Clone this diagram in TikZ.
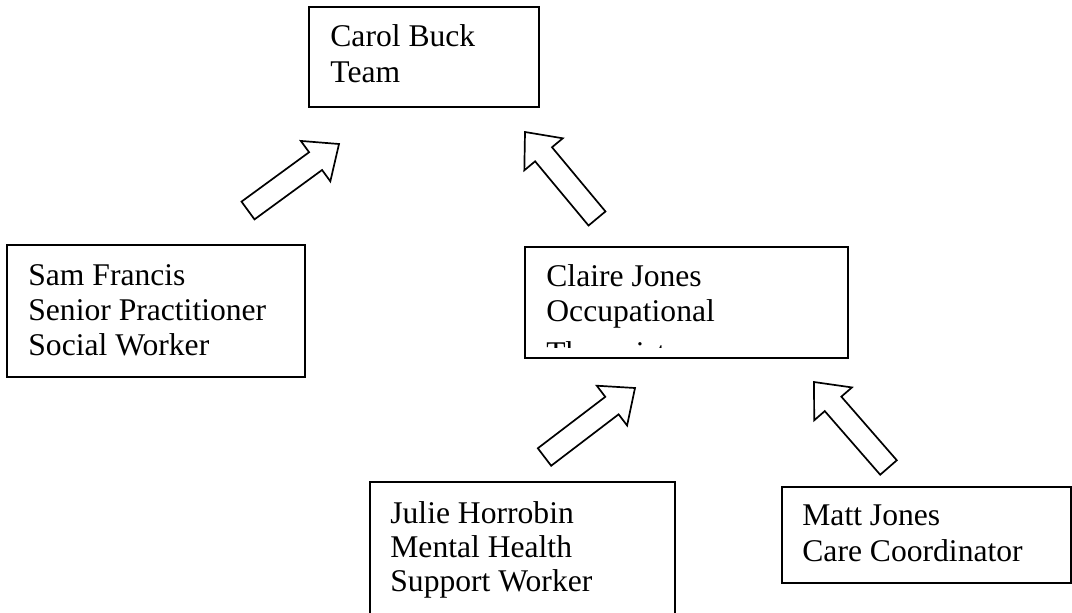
\documentclass[tikz,border=0pt]{standalone}
\usepackage{fontspec}
\setmainfont{Liberation Serif}
\usetikzlibrary{calc}
\tikzset{
  boxnode/.style={draw, line width=1pt, inner sep=0pt, fill=white},
  txt/.style={anchor=base west, inner sep=0pt, font=\fontsize{15.8}{17}\selectfont},
  arrowshape/.style={draw, line width=0.85pt, fill=white, line join=miter},
}
\newcommand\blockarrow[2]{%
  \coordinate (#1-h) at ($(#2)!14.5pt!(#1)$);
  \draw[arrowshape] ($(#1)!5.5pt!90:(#2)$) -- ($(#1-h)!5.5pt!90:(#2)$)
    -- ($(#1-h)!12.5pt!90:(#2)$) -- (#2) -- ($(#1-h)!12.5pt!-90:(#2)$)
    -- ($(#1-h)!5.5pt!-90:(#2)$) -- ($(#1)!5.5pt!-90:(#2)$) -- cycle;}
\begin{document}
\begin{tikzpicture}[x=0.5pt, y=-0.5pt]
\useasboundingbox (0,0) rectangle (1072,612);
\clip (0,0) rectangle (1072,612);
% boxes
\node[boxnode, minimum width=115pt, minimum height=50pt] (carol) at (424,57) {};
\node[boxnode, minimum width=149pt, minimum height=66pt] (sam) at (156,311) {};
\node[boxnode, minimum width=161.5pt, minimum height=55.5pt] (claire) at (686.5,302.5) {};
\node[boxnode, minimum width=152.5pt, minimum height=79pt] (julie) at (522.5,561) {};
\node[boxnode, minimum width=144.5pt, minimum height=48pt] (matt) at (926.5,535) {};
% texts
\node[txt] (carol1) at ($(carol.north west)+(22,40)$) {Carol Buck};
\node[txt] (carol2) at ($(carol.north west)+(22,76)$) {Team};
\node[txt] (sam1) at ($(sam.north west)+(22,41)$) {Sam Francis};
\node[txt] (sam2) at ($(sam.north west)+(22,76)$) {Senior Practitioner};
\node[txt] (sam3) at ($(sam.north west)+(22,111)$) {Social Worker};
\node[txt] (claire1) at ($(claire.north west)+(22,40)$) {Claire Jones};
\node[txt] (claire2) at ($(claire.north west)+(22,75)$) {Occupational};
\begin{scope}
\clip (claire.north west) rectangle ($(claire.south east)+(0,-12)$);
\node[txt] (claire3) at ($(claire.north west)+(22,117)$) {Therapist};
\end{scope}
\node[txt] (julie1) at ($(julie.north west)+(21,42)$) {Julie Horrobin};
\node[txt] (julie2) at ($(julie.north west)+(21,76)$) {Mental Health};
\node[txt] (julie3) at ($(julie.north west)+(21,110)$) {Support Worker};
\node[txt] (matt1) at ($(matt.north west)+(21,39)$) {Matt Jones};
\node[txt] (matt2) at ($(matt.north west)+(21,75)$) {Care Coordinator};
% arrows
\coordinate (a1t) at (248,210.5); \coordinate (a1p) at (339,144);
\coordinate (a2t) at (597,218.5); \coordinate (a2p) at (525,132);
\coordinate (a3t) at (544.5,457); \coordinate (a3p) at (635,388);
\coordinate (a4t) at (888.5,467.5); \coordinate (a4p) at (814,382);
\blockarrow{a1t}{a1p}
\blockarrow{a2t}{a2p}
\blockarrow{a3t}{a3p}
\blockarrow{a4t}{a4p}
\end{tikzpicture}
\end{document}
